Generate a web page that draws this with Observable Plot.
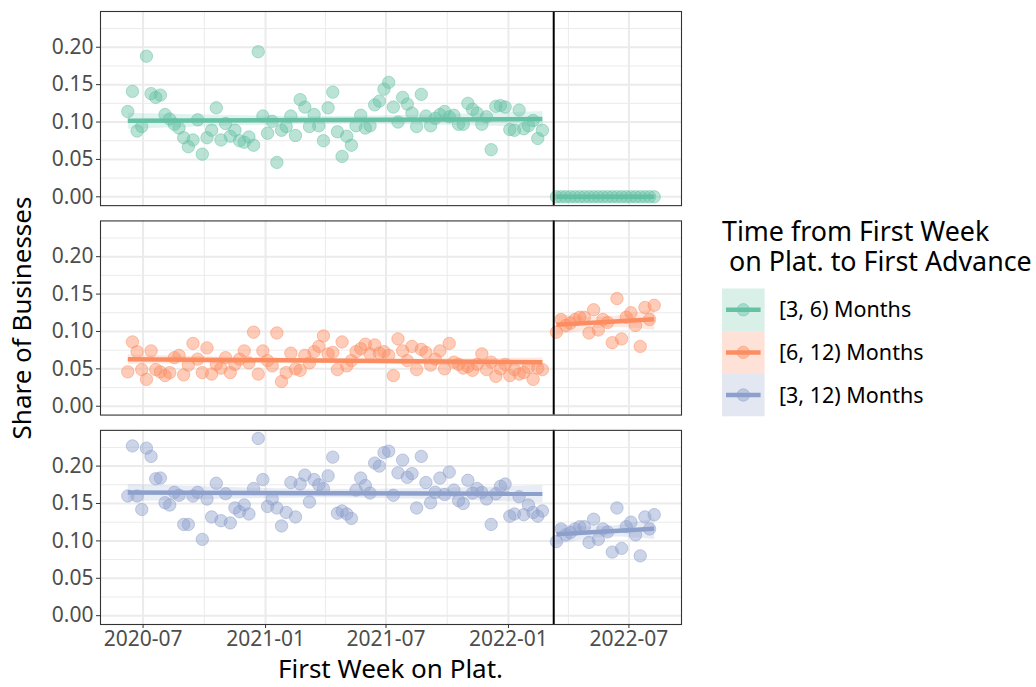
<!DOCTYPE html>
<html>
<head>
<meta charset="utf-8">
<script src="https://cdn.jsdelivr.net/npm/d3@7"></script>
<script src="https://cdn.jsdelivr.net/npm/@observablehq/plot@0.6"></script>
<style>
  body { margin: 0; background: #fff; }
  #fig { position: relative; width: 1036px; height: 687px; overflow: hidden; background: #fff;
         font-family: "Noto Sans", sans-serif; }
  #fig > svg { position: absolute; left: 0; top: 0; overflow: visible; }
  .legend-title { position: absolute; left: 722px; top: 216px; font-size: 26.8px; line-height: 29.5px;
                  color: #000; white-space: pre; }
  .legend-keys { position: absolute; left: 0; top: 0; overflow: visible; }
</style>
</head>
<body>
<div id="fig"></div>
<script>
// Weekly cohorts, by first week on the platform
const groups = ["[3, 6) Months", "[6, 12) Months", "[3, 12) Months"];
const colors = ["#66c2a5", "#fc8d62", "#8da0cb"];

const preStart = "2020-06-08";   // first weekly cohort before the cutoff
const preWeeks = 90;
const postStart = "2022-03-14";  // first weekly cohort after the cutoff
const postWeeks = 22;
const cutoffDate = "2022-03-10";

// Share of businesses whose first advance came 3–6 months after joining
const share36Pre = [
  0.114, 0.141, 0.088, 0.094, 0.188, 0.138, 0.133, 0.136, 0.110, 0.104,
  0.097, 0.092, 0.079, 0.067, 0.076, 0.103, 0.057, 0.079, 0.089, 0.119,
  0.076, 0.098, 0.081, 0.089, 0.075, 0.073, 0.080, 0.069, 0.194, 0.108,
  0.085, 0.101, 0.046, 0.089, 0.094, 0.108, 0.082, 0.130, 0.120, 0.094,
  0.110, 0.095, 0.075, 0.119, 0.140, 0.087, 0.054, 0.081, 0.069, 0.095,
  0.109, 0.092, 0.095, 0.123, 0.128, 0.144, 0.153, 0.120, 0.100, 0.133,
  0.124, 0.112, 0.094, 0.137, 0.108, 0.095, 0.105, 0.110, 0.114, 0.107,
  0.109, 0.097, 0.097, 0.125, 0.117, 0.112, 0.097, 0.107, 0.063, 0.121,
  0.122, 0.120, 0.090, 0.089, 0.116, 0.091, 0.095, 0.102, 0.078, 0.089
];
const share36Post = [
  0, 0, 0, 0, 0, 0, 0, 0, 0, 0, 0,
  0, 0, 0, 0, 0, 0, 0, 0, 0, 0, 0
];

// 6–12 months
const share612Pre = [
  0.046, 0.086, 0.073, 0.049, 0.036, 0.074, 0.049, 0.046, 0.041, 0.045,
  0.065, 0.068, 0.042, 0.055, 0.084, 0.063, 0.045, 0.078, 0.043, 0.056,
  0.051, 0.065, 0.045, 0.056, 0.063, 0.074, 0.058, 0.099, 0.043, 0.074,
  0.061, 0.054, 0.098, 0.033, 0.045, 0.071, 0.050, 0.048, 0.068, 0.058,
  0.073, 0.080, 0.094, 0.070, 0.072, 0.049, 0.086, 0.054, 0.061, 0.073,
  0.077, 0.083, 0.070, 0.082, 0.071, 0.073, 0.068, 0.041, 0.090, 0.074,
  0.061, 0.080, 0.049, 0.076, 0.072, 0.055, 0.063, 0.074, 0.050, 0.084,
  0.059, 0.056, 0.051, 0.053, 0.048, 0.056, 0.070, 0.049, 0.059, 0.040,
  0.050, 0.056, 0.041, 0.049, 0.043, 0.045, 0.052, 0.036, 0.051, 0.049
];
const share612Post = [
  0.099, 0.116, 0.108, 0.111, 0.116, 0.119, 0.119, 0.098, 0.129, 0.102, 0.116,
  0.112, 0.085, 0.144, 0.090, 0.119, 0.125, 0.108, 0.080, 0.132, 0.116, 0.135
];

// 3–12 months
const share312Pre = [
  0.160, 0.227, 0.160, 0.142, 0.224, 0.213, 0.183, 0.184, 0.151, 0.148,
  0.165, 0.161, 0.122, 0.122, 0.160, 0.165, 0.102, 0.156, 0.132, 0.177,
  0.127, 0.163, 0.124, 0.144, 0.139, 0.148, 0.136, 0.170, 0.237, 0.182,
  0.146, 0.156, 0.144, 0.120, 0.138, 0.178, 0.132, 0.176, 0.188, 0.152,
  0.182, 0.175, 0.170, 0.187, 0.212, 0.137, 0.140, 0.136, 0.130, 0.168,
  0.184, 0.174, 0.164, 0.204, 0.200, 0.218, 0.220, 0.161, 0.191, 0.208,
  0.185, 0.190, 0.144, 0.213, 0.178, 0.151, 0.165, 0.184, 0.162, 0.192,
  0.168, 0.154, 0.150, 0.181, 0.164, 0.170, 0.165, 0.156, 0.122, 0.163,
  0.173, 0.176, 0.133, 0.136, 0.159, 0.135, 0.148, 0.138, 0.133, 0.140
];
const share312Post = [
  0.099, 0.116, 0.108, 0.111, 0.116, 0.119, 0.119, 0.098, 0.129, 0.102, 0.116,
  0.112, 0.085, 0.144, 0.090, 0.119, 0.125, 0.108, 0.080, 0.132, 0.116, 0.135
];

// Axis breaks
const xMajor = ["2020-07-01", "2021-01-01", "2021-07-01", "2022-01-01", "2022-07-01"];
const xMinor = ["2020-10-01", "2021-04-01", "2021-10-01", "2022-04-01"];
const yMajor = [0, 0.05, 0.10, 0.15, 0.20];
const yMinor = [0.025, 0.075, 0.125, 0.175, 0.225];
const xDomain = ["2020-04-28", "2022-09-18"];
const yDomain = [-0.0118, 0.2478];

// ---- assemble the long table ----
const parse = d3.utcParse("%Y-%m-%d");
const weeks = (start, n) => d3.range(n).map(i => d3.utcWeek.offset(parse(start), i));
const preDates = weeks(preStart, preWeeks);
const postDates = weeks(postStart, postWeeks);

const rows = [];
function addSeries(group, period, dates, values) {
  values.forEach((v, i) => rows.push({group, period, date: dates[i], share: v}));
}
addSeries(groups[0], "pre", preDates, share36Pre);
addSeries(groups[0], "post", postDates, share36Post);
addSeries(groups[1], "pre", preDates, share612Pre);
addSeries(groups[1], "post", postDates, share612Post);
addSeries(groups[2], "pre", preDates, share312Pre);
addSeries(groups[2], "post", postDates, share312Post);

const grid = "#ebebeb";

const chart = Plot.plot({
  width: 692,
  height: 687,
  marginLeft: 100,
  marginRight: 11,
  marginTop: 11,
  marginBottom: 63,
  style: {fontFamily: "'Noto Sans', sans-serif", fontSize: "21px", background: "transparent", overflow: "visible"},
  x: {type: "utc", domain: xDomain.map(parse)},
  y: {domain: yDomain},
  fy: {domain: groups, paddingInner: 0.073, paddingOuter: 0, round: false, axis: null},
  color: {domain: groups, range: colors},
  marks: [
    Plot.gridY(yMinor, {stroke: grid, strokeOpacity: 1, strokeWidth: 1}),
    Plot.gridX(xMinor.map(parse), {stroke: grid, strokeOpacity: 1, strokeWidth: 1}),
    Plot.gridY(yMajor, {stroke: grid, strokeOpacity: 1, strokeWidth: 2}),
    Plot.gridX(xMajor.map(parse), {stroke: grid, strokeOpacity: 1, strokeWidth: 2}),
    Plot.linearRegressionY(rows, {
      x: "date", y: "share", fy: "group", z: "period",
      stroke: "group", fill: "group", fillOpacity: 0.2,
      strokeWidth: 4.5, strokeLinecap: "butt"
    }),
    Plot.dot(rows, {
      x: "date", y: "share", fy: "group", r: 6.2,
      fill: "group", fillOpacity: 0.45,
      stroke: "group", strokeOpacity: 0.5, strokeWidth: 1
    }),
    Plot.ruleX([parse(cutoffDate)], {stroke: "#000", strokeWidth: 2}),
    Plot.frame({stroke: "#333", strokeWidth: 1.1}),
    Plot.axisY(yMajor, {
      tickFormat: d3.format(".2f"), tickSize: 4, tickPadding: 3,
      stroke: "#333", fill: "#4d4d4d", fontSize: 21, label: null
    }),
    Plot.axisX(xMajor.map(parse), {
      tickFormat: d3.utcFormat("%Y-%m"), tickSize: 4, tickPadding: 3,
      stroke: "#333", fill: "#4d4d4d", fontSize: 21, label: null
    })
  ]
});

const fig = document.getElementById("fig");
fig.appendChild(chart);

// Axis titles
const svg = d3.select(chart);
svg.append("text")
  .attr("x", 390.5).attr("y", 678)
  .attr("text-anchor", "middle")
  .attr("font-size", 26).attr("fill", "#000")
  .text("First Week on Plat.");
svg.append("text")
  .attr("transform", "translate(31,318) rotate(-90)")
  .attr("text-anchor", "middle")
  .attr("font-size", 26).attr("fill", "#000")
  .text("Share of Businesses");

// Legend
const title = document.createElement("div");
title.className = "legend-title";
title.textContent = "Time from First Week\n on Plat. to First Advance";
fig.appendChild(title);

const keySize = 42.6;
const keyTop = 288.5;
const keyLeft = 722;
const leg = d3.select(fig).append("svg")
  .attr("class", "legend-keys")
  .attr("width", 1036).attr("height", 687)
  .style("font-family", "'Noto Sans', sans-serif");
groups.forEach((g, i) => {
  const y0 = keyTop + i * keySize;
  const cy = y0 + keySize / 2;
  leg.append("rect")
    .attr("x", keyLeft).attr("y", y0).attr("width", keySize).attr("height", keySize)
    .attr("fill", colors[i]).attr("fill-opacity", 0.25);
  leg.append("line")
    .attr("x1", keyLeft + 4).attr("x2", keyLeft + keySize - 4)
    .attr("y1", cy).attr("y2", cy)
    .attr("stroke", colors[i]).attr("stroke-width", 4.5);
  leg.append("circle")
    .attr("cx", keyLeft + keySize / 2).attr("cy", cy).attr("r", 6.2)
    .attr("fill", colors[i]).attr("fill-opacity", 0.45)
    .attr("stroke", colors[i]).attr("stroke-opacity", 0.5);
  leg.append("text")
    .attr("x", 779).attr("y", cy).attr("dy", "0.35em")
    .attr("font-size", 21.5).attr("fill", "#000")
    .text(g);
});
</script>
</body>
</html>
